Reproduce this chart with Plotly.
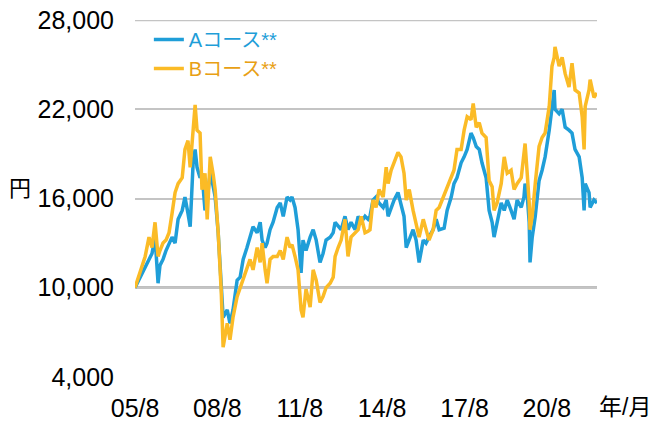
import plotly.graph_objects as go

# time in decimal years
t = [2005.58, 2005.77, 2005.95, 2006.09, 2006.20, 2006.31, 2006.42, 2006.49, 2006.60, 2006.71,
     2006.82, 2006.93, 2007.04, 2007.15, 2007.30, 2007.40, 2007.51, 2007.59, 2007.70, 2007.77,
     2007.84, 2007.95, 2008.02, 2008.13, 2008.21, 2008.32, 2008.43, 2008.50, 2008.61, 2008.72,
     2008.79, 2008.94, 2009.04, 2009.15, 2009.30, 2009.41, 2009.52, 2009.66, 2009.77, 2009.88,
     2010.03, 2010.14, 2010.21, 2010.32, 2010.39, 2010.50, 2010.61, 2010.76, 2010.87, 2010.98,
     2011.12, 2011.23, 2011.30, 2011.41, 2011.52, 2011.63, 2011.70, 2011.81, 2011.96, 2012.07,
     2012.18, 2012.32, 2012.43, 2012.54, 2012.69, 2012.80, 2012.87, 2012.98, 2013.09, 2013.23,
     2013.34, 2013.45, 2013.60, 2013.71, 2013.82, 2013.96, 2014.07, 2014.14, 2014.25, 2014.36,
     2014.47, 2014.62, 2014.73, 2014.80, 2014.91, 2015.02, 2015.16, 2015.27, 2015.38, 2015.46,
     2015.57, 2015.71, 2015.82, 2015.93, 2016.08, 2016.18, 2016.29, 2016.44, 2016.55, 2016.66,
     2016.84, 2016.95, 2017.10, 2017.20, 2017.31, 2017.46, 2017.57, 2017.68, 2017.82, 2017.90,
     2018.01, 2018.12, 2018.22, 2018.37, 2018.48, 2018.59, 2018.66, 2018.77, 2018.92, 2019.03,
     2019.14, 2019.28, 2019.39, 2019.50, 2019.65, 2019.75, 2019.79, 2019.86, 2019.94, 2019.97,
     2020.05, 2020.16, 2020.30, 2020.41, 2020.52, 2020.67, 2020.77, 2020.85, 2020.88, 2021.03,
     2021.14, 2021.25, 2021.39, 2021.50, 2021.61, 2021.76, 2021.87, 2021.94, 2021.98, 2022.12,
     2022.16, 2022.30, 2022.41]

course_a = [10000, 10700, 11400, 12000, 12300, 13400, 10300, 11500, 11900, 12500,
            13000, 13400, 13000, 14600, 15200, 16100, 15000, 14100, 18500, 19300,
            18100, 17400, 17700, 15200, 16000, 17700, 16800, 16100, 13700, 10000,
            8000, 8500, 7600, 8500, 10500, 10700, 11900, 12700, 13400, 14100,
            13700, 14400, 13200, 12700, 13000, 13900, 14400, 15400, 15700, 14800,
            16100, 15900, 16100, 15400, 13900, 11000, 13200, 12500, 13400, 13900,
            13200, 11700, 12300, 13200, 13400, 13700, 14400, 14100, 13900, 14800,
            13900, 14400, 13900, 14800, 14400, 14800, 14600, 14800, 15900, 16100,
            15700, 15400, 15900, 14800, 15400, 15900, 16400, 15700, 14800, 12700,
            13200, 13900, 13200, 11700, 13200, 13000, 13400, 13900, 14600, 13900,
            14000, 15200, 16100, 17000, 17400, 18400, 18800, 19300, 20400, 20100,
            19500, 19300, 18400, 17400, 15200, 14400, 13400, 14400, 15700, 15200,
            15900, 15200, 14600, 15900, 15400, 16100, 17000, 16400, 14400, 11700,
            13400, 14800, 17200, 17900, 18800, 20600, 22200, 23300, 22000, 21700,
            22000, 20800, 20600, 20400, 19300, 18800, 17400, 15200, 17000, 16400,
            15400, 15900, 15700]

course_b = [10000, 11100, 12100, 13400, 12700, 14400, 12100, 12500, 13000, 13200,
            13700, 15000, 16400, 17000, 17400, 19300, 19900, 18100, 20500, 22300,
            20600, 20400, 16600, 17700, 14600, 18800, 17600, 16600, 13700, 9800,
            6000, 7600, 6500, 8000, 9400, 10000, 10700, 11400, 11900, 11200,
            12700, 11700, 13000, 11200, 10300, 11900, 12100, 12100, 12500, 11900,
            13400, 12700, 12900, 12100, 11200, 8500, 8000, 9900, 8700, 11200,
            10500, 9000, 9400, 10000, 10300, 10700, 12100, 12700, 13200, 14600,
            12100, 13400, 13700, 13900, 14800, 13700, 13800, 13900, 15900, 15400,
            16600, 16100, 18100, 17000, 17900, 18400, 19100, 18800, 17700, 15900,
            16600, 15200, 14400, 13400, 14600, 13900, 13200, 13900, 15200, 15400,
            16200, 16800, 17400, 17900, 19300, 19300, 20600, 21500, 21300, 22400,
            20800, 21100, 20400, 20100, 17200, 16800, 15200, 15700, 17000, 18800,
            17700, 17900, 16600, 17000, 17400, 19000, 19700, 17900, 15700, 13900,
            14800, 17000, 19500, 20100, 20400, 22200, 24900, 25500, 26200, 24900,
            25500, 24400, 23500, 25100, 23300, 23100, 21500, 19300, 22200, 23300,
            24000, 22800, 23100]

x_tick_vals = [2005 + 7 / 12 + 3 * k for k in range(6)]
x_tick_text = ["05/8", "08/8", "11/8", "14/8", "17/8", "20/8"]
y_tick_vals = [4000, 10000, 16000, 22000, 28000]

series_names = ["Aコース**", "Bコース**"]
line_colors = ["#1f9ed8", "#fbbb26"]
text_colors = ["#1f9ed8", "#e8a014"]

FONT = "Arial, 'Liberation Sans', 'Noto Sans CJK JP', sans-serif"

fig = go.Figure()
for name, ys, lc, tc in zip(series_names, [course_a, course_b], line_colors, text_colors):
    fig.add_trace(go.Scatter(
        x=t, y=ys, mode="lines", name=f"<span style='color:{tc}'>{name}</span>",
        line=dict(color=lc, width=3.5), hoverinfo="skip"))

fig.add_shape(type="line", xref="paper", x0=0, x1=1, yref="y", y0=10000, y1=10000,
              line=dict(color="black", width=2), layer="below")
fig.add_shape(type="line", xref="paper", x0=0, x1=1, yref="y", y0=28000, y1=28000,
              line=dict(color="#c4c4c4", width=2), layer="below")

fig.update_layout(
    width=654, height=421,
    margin=dict(l=135, r=57, t=20, b=44, autoexpand=False),
    paper_bgcolor="white", plot_bgcolor="white",
    font=dict(family=FONT, size=25, color="black"),
    showlegend=True,
    legend=dict(x=0.03, y=1.0, xanchor="left", yanchor="top",
                bgcolor="rgba(0,0,0,0)", font=dict(size=20), tracegroupgap=0,
                itemwidth=30),
    xaxis=dict(range=[2005.58, 2022.41], tickvals=x_tick_vals, ticktext=x_tick_text,
               showgrid=False, zeroline=False, showline=False, ticks="",
               ticklabelstandoff=14, ticklabeloverflow="allow"),
    yaxis=dict(range=[3990, 28010], tickvals=y_tick_vals, tickformat=",",
               showgrid=True, gridcolor="#c4c4c4", gridwidth=2, zeroline=False,
               showline=False, ticks="", ticklabelstandoff=20,
               ticklabeloverflow="allow"),
    annotations=[
        dict(text="円", xref="paper", yref="paper", x=(20 - 135) / 462, y=(377 - 188) / 357,
             showarrow=False, font=dict(size=22), xanchor="center", yanchor="middle"),
        dict(text="年/月", xref="paper", yref="paper", x=(625 - 135) / 462, y=(377 - 407) / 357,
             showarrow=False, font=dict(size=23), xanchor="center", yanchor="middle"),
    ],
)

fig.write_html("out.html", config={"displayModeBar": False},
               post_script="document.body.style.margin='0';")
